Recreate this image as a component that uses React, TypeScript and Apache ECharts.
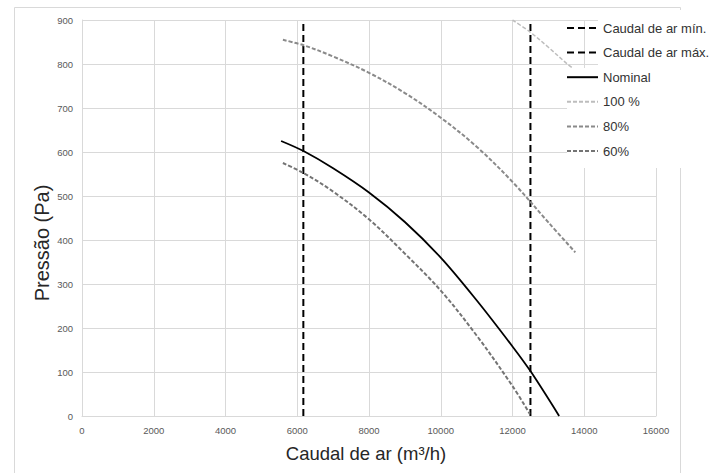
import React, { useEffect, useRef } from "react";
import * as echarts from "echarts";

// ---- data ----
const xTicks = [0, 2000, 4000, 6000, 8000, 10000, 12000, 14000, 16000];
const yTicks = [0, 100, 200, 300, 400, 500, 600, 700, 800, 900];

const minFlow = [6170, 6170];
const minPress = [0, 900];
const maxFlow = [12500, 12500];
const maxPress = [0, 900];

const nominalFlow = [5550, 6200, 7000, 8000, 9000, 10000, 11000, 12000, 12500, 13300];
const nominalPress = [625, 601, 563, 508, 441, 360, 263, 158, 102, 0];

const flow100 = [12000, 12500, 13000, 13500, 13750];
const press100 = [900, 872, 838, 802, 786];

const flow80 = [5600, 6200, 7000, 8000, 9000, 10000, 11000, 12000, 13000, 13750];
const press80 = [855, 842, 817, 780, 734, 678, 612, 532, 440, 372];

const flow60 = [5600, 6200, 7000, 8000, 9000, 10000, 11000, 12000, 12480];
const press60 = [575, 551, 510, 447, 369, 285, 183, 68, 5];

const names = ["Caudal de ar mín.", "Caudal de ar máx.", "Nominal", "100 %", "80%", "60%"];

const pair = (xs: number[], ys: number[]) => xs.map((x, i) => [x, ys[i]]);

export default function App() {
  const ref = useRef<HTMLDivElement>(null);
  useEffect(() => {
    if (!ref.current) return;
    const chart = echarts.init(ref.current, null, { renderer: "svg" });
    const grid = "#d9d9d9";
    const line = (name: string, data: number[][], color: string, width: number, type: any, smooth = true) => ({
      name,
      type: "line",
      data,
      symbol: "none",
      smooth: smooth ? 0.35 : false,
      clip: true,
      lineStyle: { color, width, type },
      itemStyle: { color },
    });
    chart.setOption({
      animation: false,
      backgroundColor: "#ffffff",
      grid: { left: 82, right: 64, top: 20, bottom: 57, containLabel: false },
      xAxis: {
        type: "value",
        min: xTicks[0],
        max: xTicks[xTicks.length - 1],
        interval: 2000,
        axisLine: { show: true, lineStyle: { color: grid, width: 1 } },
        axisTick: { show: false },
        axisLabel: {
          color: "#595959",
          fontSize: 9.5,
          margin: 9,
          fontFamily: "Liberation Sans",
          formatter: (v: number) => String(v),
        },
        splitLine: { show: true, lineStyle: { color: grid, width: 1 } },
      },
      yAxis: {
        type: "value",
        min: yTicks[0],
        max: yTicks[yTicks.length - 1],
        interval: 100,
        axisLine: { show: true, lineStyle: { color: grid, width: 1 } },
        axisTick: { show: false },
        axisLabel: {
          color: "#595959",
          fontSize: 9.5,
          margin: 9,
          fontFamily: "Liberation Sans",
          formatter: (v: number) => String(v),
        },
        splitLine: { show: true, lineStyle: { color: grid, width: 1 } },
      },
      legend: {
        orient: "vertical",
        left: 566,
        top: 21,
        padding: 0,
        itemWidth: 31,
        itemHeight: 14,
        itemGap: 10.6,
        z: 10,
        data: names,
        itemStyle: { opacity: 0 },
        textStyle: { color: "#333333", fontSize: 13, fontFamily: "Liberation Sans", lineHeight: 14 },
      },
      graphic: [
        {
          type: "rect",
          z: 1,
          shape: { x: 14.5, y: 7.5, width: 666, height: 500 },
          style: { fill: "none", stroke: grid, lineWidth: 1 },
          silent: true,
        },
        {
          type: "rect",
          z: 5,
          shape: { x: 598, y: 10, width: 122, height: 60 },
          style: { fill: "#ffffff" },
          silent: true,
        },
        {
          type: "rect",
          z: 5,
          shape: { x: 567, y: 68, width: 153, height: 100 },
          style: { fill: "#ffffff" },
          silent: true,
        },
        {
          type: "text",
          z: 6,
          x: 366,
          y: 453,
          style: {
            text: "Caudal de ar (m³/h)",
            fontSize: 18.5,
            fontFamily: "Liberation Sans",
            fill: "#262626",
            textAlign: "center",
            textVerticalAlign: "middle",
          },
        },
        {
          type: "text",
          z: 6,
          x: 42,
          y: 243,
          rotation: Math.PI / 2,
          style: {
            text: "Pressão (Pa)",
            fontSize: 20,
            fontFamily: "Liberation Sans",
            fill: "#262626",
            textAlign: "center",
            textVerticalAlign: "middle",
          },
        },
      ],
      series: [
        line(names[0], pair(minFlow, minPress), "#000000", 2, [7, 4], false),
        line(names[1], pair(maxFlow, maxPress), "#000000", 2, [7, 4], false),
        line(names[2], pair(nominalFlow, nominalPress), "#000000", 1.8, "solid"),
        line(names[3], pair(flow100, press100), "#bdbdbd", 1.5, [4, 2]),
        line(names[4], pair(flow80, press80), "#8a8a8a", 2, [4, 2]),
        line(names[5], pair(flow60, press60), "#747474", 2, [4, 2]),
      ],
    });
    return () => chart.dispose();
  }, []);
  return (
    <div
      ref={ref}
      style={{ position: "absolute", left: 0, top: 0, width: 720, height: 473, background: "#fff" }}
    />
  );
}
